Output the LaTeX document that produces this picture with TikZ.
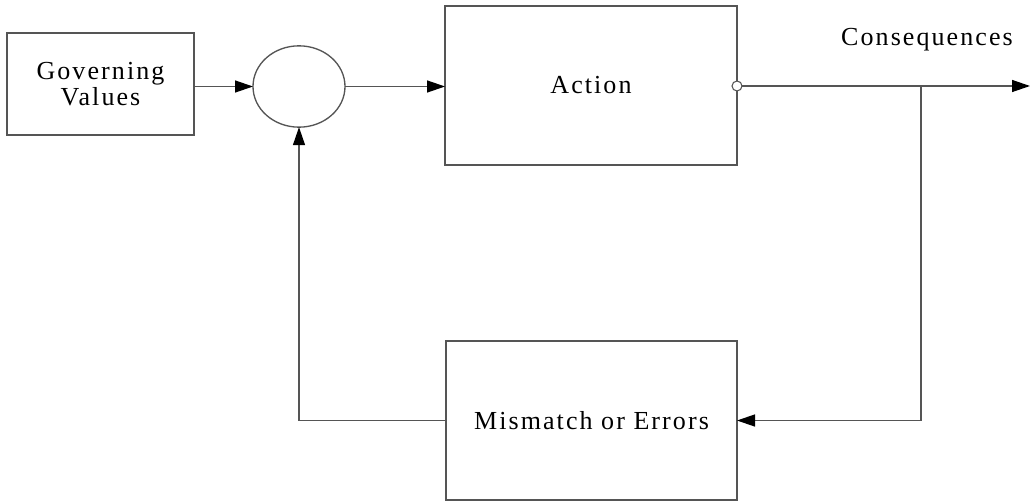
\documentclass[tikz,border=0pt]{standalone}
\usepackage{fontspec}
\setmainfont{Liberation Serif}[LetterSpace=8]
\usetikzlibrary{arrows.meta,shapes.geometric}
\definecolor{linegray}{RGB}{85,85,85}
\begin{document}
\begin{tikzpicture}[x=0.75pt,y=-0.75pt,
  every node/.style={inner sep=0pt, outer sep=0pt},
  block/.style={draw=linegray, line width=1pt, rectangle,
    font=\fontsize{19.5}{19.5}\selectfont, align=center},
  junction/.style={draw=linegray, line width=1pt, ellipse},
  wire/.style={draw=linegray, line width=1pt},
  flow/.style={wire, -{Triangle[length=13.5pt,width=9pt,fill=black,color=black]}},
  port/.style={draw=linegray, line width=0.8pt, circle, fill=white, minimum size=7.5pt},
  label/.style={font=\fontsize{19.5}{19.5}\selectfont}]
\useasboundingbox (0,0) rectangle (1035,502);

% blocks
\node[block, minimum width=140.25pt, minimum height=76.5pt] (gv) at (100.5,84) {Governing\\Values};
\node[junction, minimum width=69pt, minimum height=61pt] (sum) at (299,86.5) {};
\node[block, minimum width=219pt, minimum height=119.25pt] (act) at (591,85.5) {Action};
\node[block, minimum width=218.25pt, minimum height=119.25pt] (mm) at (591.5,420.5) {Mismatch or Errors};

% output side
\coordinate (branch) at (921,86);
\coordinate (out) at (1030,86);
\node[label] (cons) at (927,40) {Consequences};

% forward path
\draw[flow] (gv.east |- sum.west) -- (sum.west);
\draw[flow] (sum.east) -- (act.west |- sum.east);
\draw[flow] (act.east |- out) -- (out);
\node[port] (p) at (act.east |- out) {};

% feedback path
\draw[flow] (branch) |- (mm.east);
\draw[flow] (mm.west) -| (sum.south);
\end{tikzpicture}
\end{document}
